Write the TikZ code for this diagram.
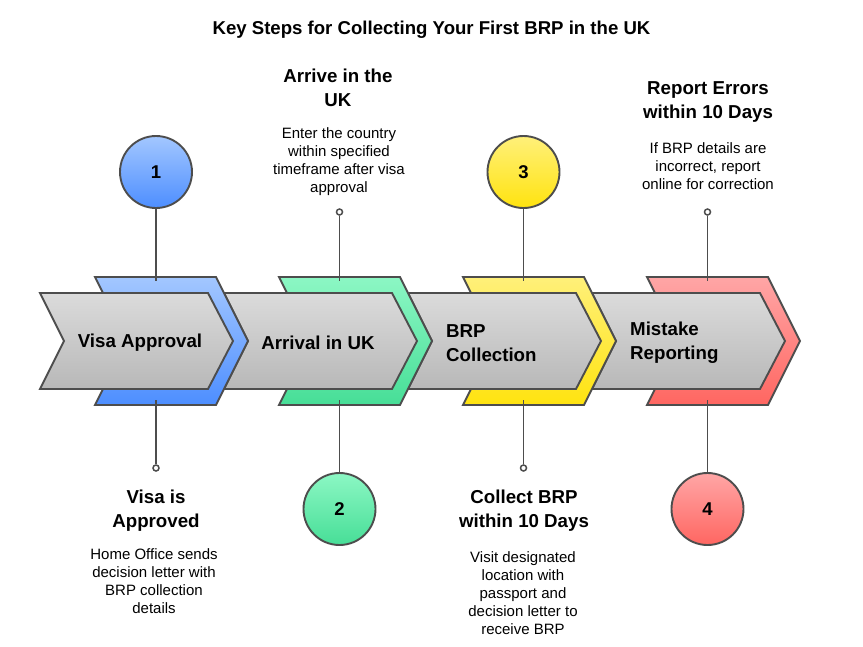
\documentclass[tikz,border=0pt]{standalone}
\usepackage{fontspec}
\setmainfont{Liberation Sans}
\definecolor{ln}{HTML}{4D4D4D}
\definecolor{bT}{HTML}{A3C7FF}\definecolor{bB}{HTML}{4D8EFF}
\definecolor{gT}{HTML}{8CF7C4}\definecolor{gB}{HTML}{47DE97}
\definecolor{yT}{HTML}{FFF07A}\definecolor{yB}{HTML}{FFE30F}
\definecolor{rT}{HTML}{FFA6A6}\definecolor{rB}{HTML}{FF6661}
\definecolor{fT}{HTML}{DBDBDB}\definecolor{fB}{HTML}{B8B8B8}
\tikzset{
  outl/.style={draw=ln,line width=1.9pt,line join=miter},
  frontshape/.style={outl,top color=fT,bottom color=fB},
  stem/.style={draw=ln,line width=1.9pt},
  numc/.style={circle,outl,minimum size=72pt,inner sep=0pt,font=\fontsize{18.5}{20}\selectfont\bfseries},
  dot/.style={circle,draw=ln,fill=white,line width=1.5pt,minimum size=6pt,inner sep=0pt},
  head/.style={align=center,inner sep=0pt,font=\fontsize{18.7}{24}\selectfont\bfseries},
  body/.style={align=center,inner sep=0pt,font=\fontsize{15}{18}\selectfont},
  stage/.style={align=left,inner sep=0pt,font=\fontsize{18.7}{24}\selectfont\bfseries},
}
\newcommand{\backshape}[3]{\path[outl,top color=#2,bottom color=#3] (#1,277) -- ++(121,0) -- ++(32,64) -- ++(-32,64) -- ++(-121,0) -- ++(8,-16) -- ++(0,-96) -- cycle;}
\newcommand{\frontshp}[1]{\path[frontshape] (#1,293) -- ++(168,0) -- ++(25,48) -- ++(-25,48) -- ++(-168,0) -- ++(24,-48) -- cycle;}
\begin{document}
\begin{tikzpicture}[x=1pt,y=-1pt]
\useasboundingbox (0,0) rectangle (863,646);
\node[inner sep=0pt,font=\fontsize{18.6}{22}\selectfont\bfseries] (title) at (431.5,30) {Key Steps for Collecting Your First BRP in the UK};
% coordinates for stem ends
\coordinate (t1) at (156,281); \coordinate (b1) at (156,400);
\coordinate (t2) at (339.5,281); \coordinate (b2) at (339.5,400);
\coordinate (t3) at (523.5,281); \coordinate (b3) at (523.5,400);
\coordinate (t4) at (707.5,281); \coordinate (b4) at (707.5,400);
% circles and dots
\node[numc,top color=bT,bottom color=bB] (c1) at (156,172) {1};
\node[dot] (d1) at (156,468) {};
\node[dot] (d2) at (339.5,212) {};
\node[numc,top color=gT,bottom color=gB] (c2) at (339.5,509) {2};
\node[numc,top color=yT,bottom color=yB] (c3) at (523.5,172) {3};
\node[dot] (d3) at (523.5,468) {};
\node[dot] (d4) at (707.5,212) {};
\node[numc,top color=rT,bottom color=rB] (c4) at (707.5,509) {4};
% shapes, last at the bottom
\backshape{647}{rT}{rB}
\draw[stem] (d4) -- (t4); \draw[stem] (c4) -- (b4);
\frontshp{592}
\backshape{463}{yT}{yB}
\draw[stem] (c3) -- (t3); \draw[stem] (d3) -- (b3);
\frontshp{408}
\backshape{279}{gT}{gB}
\draw[stem] (d2) -- (t2); \draw[stem] (c2) -- (b2);
\frontshp{224}
\backshape{95}{bT}{bB}
\draw[stem] (c1) -- (t1); \draw[stem] (d1) -- (b1);
\frontshp{40}
% stage labels
\node[stage] (s1) at (140,343) {Visa Approval};
\node[stage] (s2) at (318,343) {Arrival in UK};
\node[stage,anchor=west] (s3) at (446,343) {BRP\\Collection};
\node[stage,anchor=west] (s4) at (630,343) {Mistake\\Reporting};
% texts
\node[head] (h1) at (156,511) {Visa is\\Approved};
\node[body] (t1x) at (154,581) {Home Office sends\\decision letter with\\BRP collection\\details};
\node[head] (h2) at (338,88) {Arrive in the\\UK};
\node[body] (t2x) at (339,162) {Enter the country\\within specified\\timeframe after visa\\approval};
\node[head] (h3) at (524,511) {Collect BRP\\within 10 Days};
\node[body] (t3x) at (523,593) {Visit designated\\location with\\passport and\\decision letter to\\receive BRP};
\node[head] (h4) at (708,102) {Report Errors\\within 10 Days};
\node[body] (t4x) at (708,166) {If BRP details are\\incorrect, report\\online for correction};
\end{tikzpicture}
\end{document}
